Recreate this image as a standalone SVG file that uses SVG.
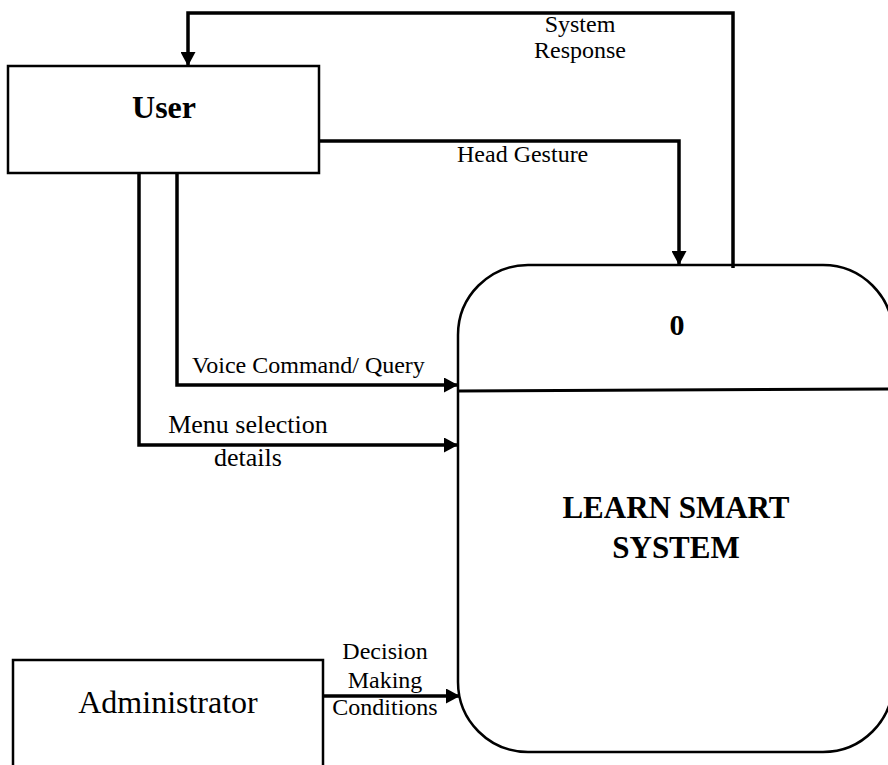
<svg xmlns="http://www.w3.org/2000/svg" width="888" height="765" viewBox="0 0 888 765">
  <style>
    .box { fill: #fff; stroke: #000; stroke-width: 2.5; }
    .flow { fill: none; stroke: #000; stroke-width: 3.5; stroke-linejoin: miter; }
    .lbl { font-family: "Liberation Serif", "Times New Roman", serif; font-size: 24px; fill: #000; }
    .mid { text-anchor: middle; }
    .title { font-family: "Liberation Serif", "Times New Roman", serif; font-weight: bold; fill: #000; text-anchor: middle; }
  </style>
  <defs>
    <marker id="arrow" markerUnits="userSpaceOnUse" markerWidth="14" markerHeight="15" refX="14" refY="7.5" orient="auto">
      <path d="M0,0 L14,7.5 L0,15 Z" fill="#000"/>
    </marker>
  </defs>

  <rect width="888" height="765" fill="#fff"/>

  <!-- external entity: User -->
  <g id="user">
    <rect class="box" x="8" y="66" width="311" height="107"/>
    <text class="title" x="164" y="118" font-size="32">User</text>
  </g>

  <!-- external entity: Administrator -->
  <g id="administrator">
    <rect class="box" x="13" y="660" width="310" height="130"/>
    <text class="lbl mid" x="168" y="713" font-size="32" style="font-size:32px">Administrator</text>
  </g>

  <!-- process 0 -->
  <g id="process-0">
    <rect class="box" x="458" y="265" width="435" height="487" rx="70" ry="70"/>
    <line x1="458" y1="391" x2="893" y2="389" stroke="#000" stroke-width="3"/>
    <text class="title" x="677" y="335" font-size="30">0</text>
    <text class="title" x="676" y="518" font-size="31">LEARN SMART</text>
    <text class="title" x="676" y="558" font-size="31">SYSTEM</text>
  </g>

  <!-- data flows -->
  <g id="connectors">
    <path class="flow" d="M733,268 V13 H188 V66" marker-end="url(#arrow)"/>
    <path class="flow" d="M319,141 H679 V265" marker-end="url(#arrow)"/>
    <path class="flow" d="M177,173 V385 H458" marker-end="url(#arrow)"/>
    <path class="flow" d="M139,173 V445 H458" marker-end="url(#arrow)"/>
    <path class="flow" d="M323,696 H460" marker-end="url(#arrow)"/>
  </g>

  <!-- flow labels -->
  <g id="labels">
    <text class="lbl mid" x="580" y="32">System</text>
    <text class="lbl mid" x="580" y="58">Response</text>
    <text class="lbl" x="457" y="162">Head Gesture</text>
    <text class="lbl" x="192" y="373">Voice Command/ Query</text>
    <text class="lbl mid" x="248" y="433" style="font-size:26px">Menu selection</text>
    <text class="lbl mid" x="248" y="466" style="font-size:26px">details</text>
    <text class="lbl mid" x="385" y="659">Decision</text>
    <text class="lbl mid" x="385" y="688">Making</text>
    <text class="lbl mid" x="385" y="715">Conditions</text>
  </g>
</svg>
